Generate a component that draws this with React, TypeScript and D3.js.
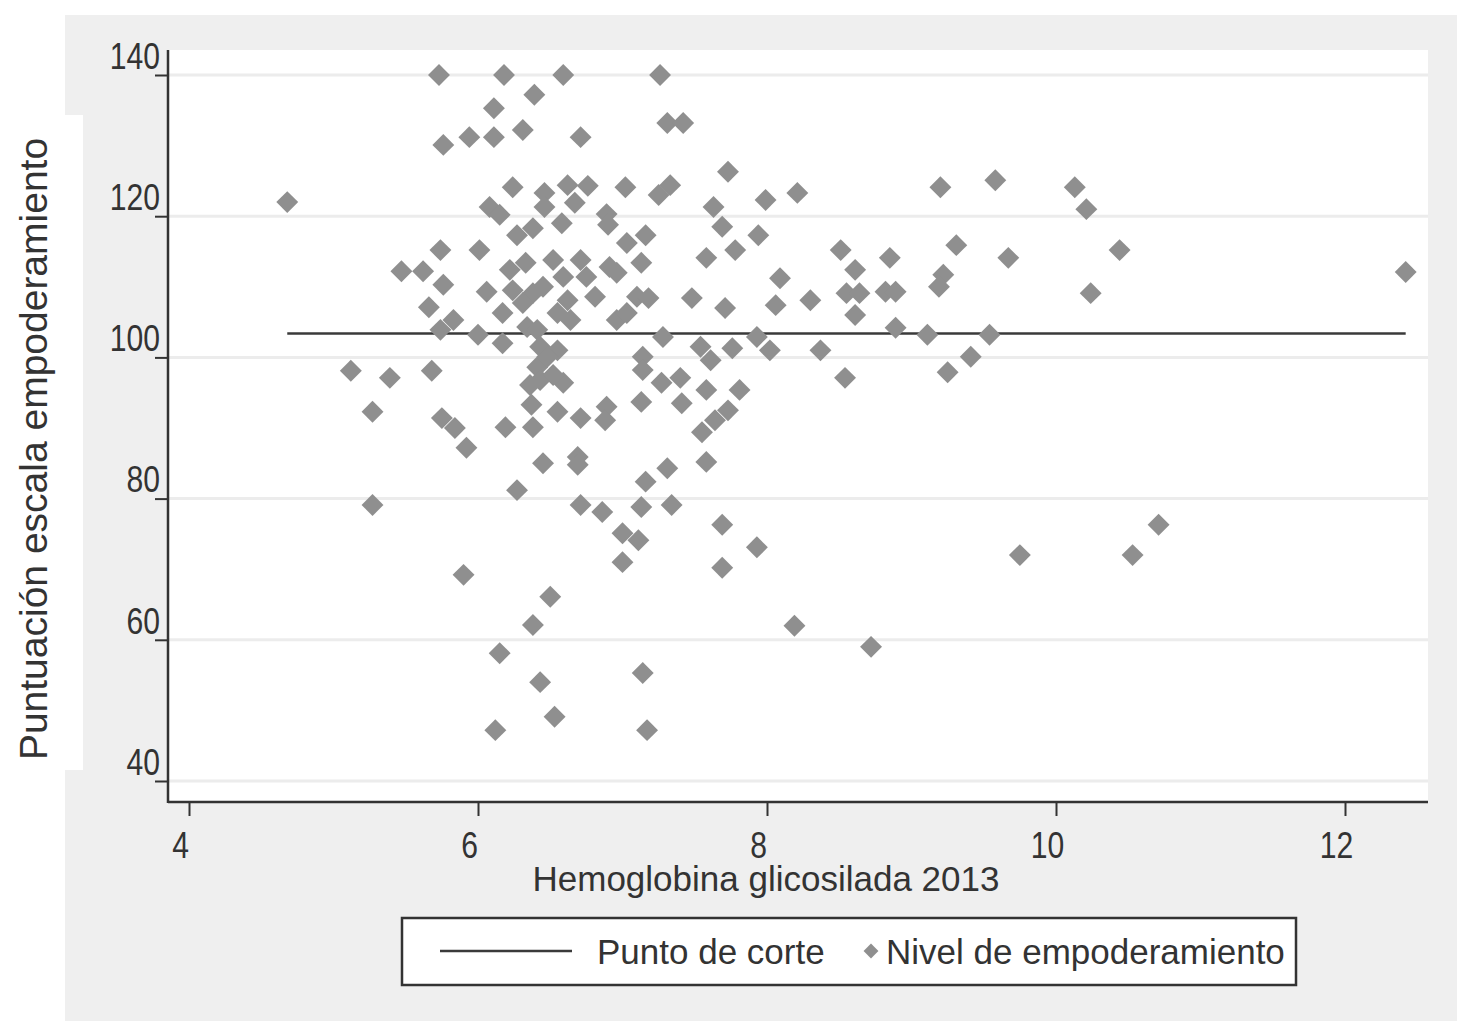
import React, { useEffect, useRef } from "react";
import * as d3 from "d3";

// HbA1c (x) and empowerment score (y)
const hba1c = [
  4.68, 5.12, 5.39, 5.27, 5.27, 5.47, 5.62, 5.66, 5.68, 5.73, 6.18, 6.59, 7.26, 6.39, 6.11, 5.76, 5.94, 6.11, 6.31, 6.71,
  7.31, 7.42, 6.24, 6.46, 6.62, 6.76, 6.67, 6.46, 6.08, 6.15, 6.58, 6.27, 6.38, 6.89, 6.9, 5.74, 6.01, 5.76, 6.06, 6.22,
  6.33, 6.24, 6.38, 6.52, 6.71, 6.59, 6.75, 6.45, 6.62, 7.02, 7.25, 7.33, 7.73, 8.21, 7.99, 7.63, 7.69, 7.94, 7.16, 7.03,
  7.78, 7.58, 6.91, 6.96, 7.13, 8.09, 7.1, 7.18, 7.48, 8.06, 7.71, 5.83, 5.74, 6.0, 6.17, 6.17, 6.31, 6.34, 6.41, 6.55,
  6.64, 6.43, 6.55, 6.41, 6.43, 6.59, 6.52, 6.37, 5.75, 5.84, 5.92, 6.19, 6.38, 6.55, 6.71, 6.45, 6.69, 6.69, 6.27, 6.71,
  6.86, 6.96, 7.03, 7.28, 7.54, 7.61, 7.76, 7.93, 8.02, 7.14, 7.14, 7.27, 7.4, 7.58, 7.81, 6.89, 6.88, 7.13, 7.41, 7.55,
  7.64, 7.73, 7.58, 7.31, 7.16, 7.13, 7.34, 7.0, 7.11, 7.69, 7.93, 7.69, 7.0, 5.9, 6.5, 6.38, 8.19, 6.15, 8.72, 6.43,
  7.14, 6.53, 6.12, 7.17, 9.2, 9.58, 10.13, 10.21, 8.51, 8.85, 9.31, 9.67, 10.44, 12.42, 8.61, 9.22, 9.19, 8.3, 8.55, 8.64,
  8.82, 8.89, 10.24, 8.61, 8.37, 8.54, 8.89, 9.11, 9.54, 9.41, 9.25, 9.75, 10.53, 10.71, 6.81, 6.48, 6.36,
];
const empowerment = [
  122.0, 98.1, 97.1, 92.3, 79.1, 112.2, 112.2, 107.1, 98.1, 140, 140, 140, 140, 137.2, 135.3, 130.1, 131.2, 131.2, 132.2, 131.2,
  133.2, 133.2, 124.1, 123.3, 124.4, 124.3, 121.9, 121.3, 121.3, 120.2, 119.0, 117.3, 118.3, 120.3, 118.8, 115.2, 115.2, 110.3, 109.3, 112.4,
  113.4, 109.5, 109.1, 113.8, 113.8, 111.4, 111.4, 110.0, 108.1, 124.1, 123.0, 124.4, 126.3, 123.3, 122.3, 121.3, 118.5, 117.3, 117.3, 116.2,
  115.2, 114.1, 112.8, 112.0, 113.4, 111.2, 108.6, 108.4, 108.4, 107.4, 107.0, 105.3, 103.9, 103.2, 106.3, 102.0, 107.7, 104.3, 103.9, 106.3,
  105.3, 101.5, 101.0, 98.6, 96.8, 96.4, 97.5, 93.3, 91.4, 90.0, 87.2, 90.1, 90.1, 92.3, 91.4, 85.0, 85.9, 84.8, 81.2, 79.1,
  78.1, 105.3, 106.3, 102.9, 101.5, 99.6, 101.3, 102.9, 101.0, 100.1, 98.2, 96.4, 97.1, 95.4, 95.4, 93.0, 91.1, 93.7, 93.5, 89.4,
  91.1, 92.5, 85.2, 84.3, 82.4, 78.8, 79.1, 75.1, 74.1, 76.3, 73.1, 70.2, 71.0, 69.2, 66.1, 62.1, 62.0, 58.1, 59.0, 54.0,
  55.3, 49.1, 47.2, 47.2, 124.1, 125.1, 124.1, 121.0, 115.2, 114.1, 115.9, 114.1, 115.2, 112.1, 112.4, 111.7, 110.0, 108.1, 109.1, 109.1,
  109.3, 109.3, 109.1, 106.0, 101.0, 97.1, 104.2, 103.2, 103.2, 100.1, 97.9, 72.0, 72.0, 76.3, 108.6, 100.1, 96.1,
];

// cut-off line, spans the range of the data
const cutoff = 103.4;
const cutoffRange = [4.68, 12.42];

const xTicks = [4, 6, 8, 10, 12];
const yTicks = [40, 60, 80, 100, 120, 140];

const xTitle = "Hemoglobina glicosilada 2013";
const yTitle = "Puntuación escala empoderamiento";
const legendLabels = ["Punto de corte", "Nivel de empoderamiento"];

const W = 1457;
const H = 1021;
const FONT = "'Liberation Sans', Arial, sans-serif";
const MARKER = "#8f8f8f";
const INK = "#333333";

export default function App() {
  const ref = useRef<SVGSVGElement | null>(null);

  useEffect(() => {
    const svg = d3.select(ref.current);
    svg.selectAll("*").remove();

    const x = d3.scaleLinear().domain([4, 12]).range([189, 1345]);
    const y = d3.scaleLinear().domain([40, 140]).range([781, 75]);

    const plot = { left: 168, right: 1428, top: 50, bottom: 802 };

    // backgrounds
    svg.append("rect").attr("width", W).attr("height", H).attr("fill", "#ffffff");
    svg.append("rect").attr("x", 65).attr("y", 15).attr("width", W - 65).attr("height", H - 15).attr("fill", "#efefef");
    svg.append("rect").attr("x", 0).attr("y", 115).attr("width", 83).attr("height", 655).attr("fill", "#ffffff");
    svg.append("rect")
      .attr("x", plot.left).attr("y", plot.top)
      .attr("width", plot.right - plot.left).attr("height", plot.bottom - plot.top)
      .attr("fill", "#ffffff");

    // grid
    svg.append("g").selectAll("line").data(yTicks).join("line")
      .attr("x1", plot.left).attr("x2", plot.right)
      .attr("y1", (d) => y(d)).attr("y2", (d) => y(d))
      .attr("stroke", "#ececec").attr("stroke-width", 3);

    // cut-off line
    svg.append("line")
      .attr("x1", x(cutoffRange[0])).attr("x2", x(cutoffRange[1]))
      .attr("y1", y(cutoff)).attr("y2", y(cutoff))
      .attr("stroke", "#3a3a3a").attr("stroke-width", 2.5);

    // points
    const diamond = d3.symbol().type(d3.symbolSquare).size(240)();
    svg.append("g").selectAll("path").data(hba1c.map((v, i) => [v, empowerment[i]])).join("path")
      .attr("d", diamond)
      .attr("transform", (d) => `translate(${x(d[0])},${y(d[1])}) rotate(45)`)
      .attr("fill", MARKER);

    // y axis
    const yAxis = d3.axisLeft(y).tickValues(yTicks).tickSize(13).tickFormat((d) => String(d));
    const gy = svg.append("g").attr("transform", `translate(${plot.left},0)`).call(yAxis);
    gy.select(".domain").attr("d", `M0,${plot.top}V${plot.bottom + 1}`).attr("stroke", INK).attr("stroke-width", 2.5);
    gy.selectAll(".tick line").attr("stroke", INK).attr("stroke-width", 2);
    gy.selectAll(".tick text")
      .attr("x", 0).attr("dy", "0.2em")
      .attr("transform", "translate(-8,-14) scale(0.86,1.05)")
      .attr("fill", INK).style("font-family", FONT).style("font-size", "35px");

    // x axis
    const xAxis = d3.axisBottom(x).tickValues(xTicks).tickSize(14).tickFormat((d) => String(d));
    const gx = svg.append("g").attr("transform", `translate(0,${plot.bottom})`).call(xAxis);
    gx.select(".domain").attr("d", `M${plot.left},0H${plot.right}`).attr("stroke", INK).attr("stroke-width", 2.5);
    gx.selectAll(".tick line").attr("stroke", INK).attr("stroke-width", 2);
    gx.selectAll(".tick text")
      .attr("x", 0).attr("y", 0).attr("dy", "0.71em")
      .attr("transform", "translate(-9,30) scale(0.86,1.05)")
      .attr("fill", INK).style("font-family", FONT).style("font-size", "35px");

    // titles
    svg.append("text")
      .attr("x", 766).attr("y", 891)
      .attr("text-anchor", "middle")
      .attr("fill", INK).style("font-family", FONT).style("font-size", "35px")
      .text(xTitle);
    svg.append("text")
      .attr("transform", "translate(47,449) rotate(-90)")
      .attr("text-anchor", "middle")
      .attr("fill", INK).style("font-family", FONT).style("font-size", "39px")
      .text(yTitle);

    // legend
    const lg = svg.append("g");
    lg.append("rect")
      .attr("x", 402).attr("y", 918).attr("width", 894).attr("height", 67)
      .attr("fill", "#ffffff").attr("stroke", INK).attr("stroke-width", 2.5);
    lg.append("line")
      .attr("x1", 440).attr("x2", 572).attr("y1", 951).attr("y2", 951)
      .attr("stroke", "#3a3a3a").attr("stroke-width", 2.5);
    lg.append("text")
      .attr("x", 597).attr("y", 964)
      .attr("fill", INK).style("font-family", FONT).style("font-size", "35px")
      .text(legendLabels[0]);
    lg.append("path")
      .attr("d", d3.symbol().type(d3.symbolSquare).size(110)())
      .attr("transform", "translate(871,951) rotate(45)")
      .attr("fill", MARKER);
    lg.append("text")
      .attr("x", 886).attr("y", 964)
      .attr("fill", INK).style("font-family", FONT).style("font-size", "35px")
      .text(legendLabels[1]);
  }, []);

  return (
    <div style={{ position: "absolute", left: 0, top: 0 }}>
      <svg ref={ref} width={W} height={H} style={{ display: "block" }} />
    </div>
  );
}
